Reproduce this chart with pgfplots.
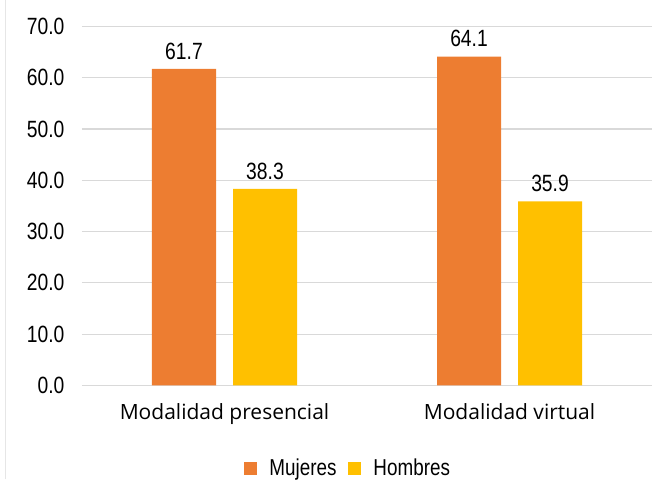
\documentclass[border=0pt]{standalone}
\usepackage{fontspec}
\setmainfont{Open Sans}
\newfontfamily\narrow[FakeStretch=0.82]{Liberation Sans}
\usepackage{pgfplots}
\pgfplotsset{compat=1.18}
\definecolor{muj}{RGB}{237,125,49}
\definecolor{hom}{RGB}{255,192,0}
\definecolor{gridc}{RGB}{217,217,217}
\definecolor{framec}{RGB}{230,230,230}
\begin{document}
\begin{tikzpicture}
\begin{axis}[
  scale only axis,
  width=570pt, height=359pt,
  xmin=-0.5, xmax=1.5,
  ymin=0, ymax=70,
  ytick={0,10,...,70},
  xtick={0,1},
  xticklabels={Modalidad presencial, Modalidad virtual},
  xticklabel style={font=\fontsize{21}{24}\selectfont, yshift=-15pt},
  yticklabel style={font=\narrow\fontsize{23.5}{27}\selectfont, xshift=-14pt},
  /pgf/number format/assume math mode=true,
  yticklabel={\pgfmathprintnumber[fixed,fixed zerofill,precision=1]{\tick}},
  axis line style={draw=none},
  major tick length=0pt,
  ymajorgrids,
  grid style={gridc, line width=1.2pt},
  ybar, bar width=64pt,
  nodes near coords={\pgfmathprintnumber[fixed,fixed zerofill,precision=1]{\pgfplotspointmeta}},
  nodes near coords style={font=\narrow\fontsize{23.5}{27}\selectfont, anchor=south, yshift=6pt, text=black},
  legend style={at={(0.467,-0.231)}, anchor=center, draw=none, font=\narrow\fontsize{23}{26}\selectfont, legend columns=2, column sep=10pt},
  legend image code/.code={\fill[#1] (0pt,-6.5pt) rectangle (13pt,6.5pt);},
]
\addplot[fill=muj, draw=none, bar shift=-40.5pt] coordinates {(0,61.7) (1,64.1)};
\addplot[fill=hom, draw=none, bar shift=40.5pt] coordinates {(0,38.3) (1,35.9)};
\legend{Mujeres, Hombres}
\end{axis}
\pgfresetboundingbox
\path ([shift={(-82pt,-94pt)}]current axis.south west) rectangle ([shift={(0pt,26pt)}]current axis.north east);
\draw[framec, line width=0.8pt] ([shift={(-76.5pt,-94pt)}]current axis.south west) -- ([shift={(-76.5pt,26pt)}]current axis.north west);
\end{tikzpicture}
\end{document}
